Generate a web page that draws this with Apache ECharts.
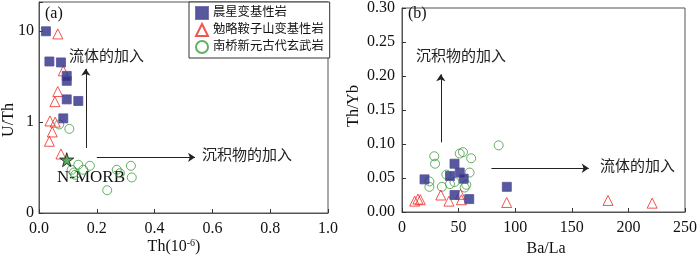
<!DOCTYPE html>
<html><head><meta charset="utf-8">
<script src="https://cdn.jsdelivr.net/npm/echarts@6.0.0/dist/echarts.min.js"></script>
<style>html,body{margin:0;padding:0;background:#fff}#c{width:700px;height:258px}</style>
</head><body><div id="c"></div>
<script>
// ---- Panel (a): Th vs U/Th ----
const seriesNames = ['晨星变基性岩', '勉略鞍子山变基性岩', '南桥新元古代玄武岩'];
const aSquareTh  = [0.024, 0.036, 0.076, 0.096, 0.096, 0.096, 0.136, 0.084];
const aSquareUTh = [10.0, 4.65, 4.54, 3.23, 2.85, 1.78, 1.71, 1.10];
const aTriTh  = [0.065, 0.084, 0.065, 0.055, 0.038, 0.056, 0.046, 0.036, 0.076];
const aTriUTh = [9.35, 3.67, 2.17, 1.68, 1.03, 1.00, 0.78, 0.616, 0.446];
const aCircTh  = [0.070, 0.105, 0.136, 0.176, 0.113, 0.121, 0.125, 0.153, 0.269, 0.280, 0.318, 0.321, 0.236];
const aCircUTh = [0.943, 0.843, 0.340, 0.331, 0.299, 0.279, 0.263, 0.299, 0.299, 0.274, 0.331, 0.246, 0.178];
const nmorbTh = [0.096], nmorbUTh = [0.386];
const aXTicks = [0, 0.2, 0.4, 0.6, 0.8, 1.0];
const aYTickLabels = {'0.1': '0', '1': '1', '10': '10'};
// ---- Panel (b): Ba/La vs Th/Yb ----
const bSquareBaLa = [19.9, 46.4, 42.4, 51.0, 54.5, 46.4, 59.4, 92.6];
const bSquareThYb = [0.048, 0.071, 0.053, 0.058, 0.049, 0.025, 0.019, 0.037];
const bTriBaLa = [11.2, 14.1, 16.2, 34.3, 41.5, 51.6, 52.5, 92.5, 182, 221];
const bTriThYb = [0.016, 0.019, 0.018, 0.025, 0.016, 0.026, 0.018, 0.014, 0.017, 0.013];
const bCircBaLa = [28.5, 29.2, 24.2, 24.2, 35.2, 39.2, 42.4, 46.4, 51.0, 53.9, 61.1, 59.7, 56.8, 55.4, 85.4];
const bCircThYb = [0.082, 0.071, 0.045, 0.037, 0.037, 0.055, 0.041, 0.044, 0.086, 0.088, 0.079, 0.058, 0.040, 0.036, 0.098];

const zip = (a, b) => a.map((v, i) => [v, b[i]]);
const serif = '"Liberation Serif", "Noto Sans CJK SC", serif';
const cjk = '"Liberation Serif", "Noto Sans CJK SC", serif';
const axisColor = '#555';
const sqStyle = {color: '#2c2f85', borderColor: '#5a4f9e', borderWidth: 1};
const triStyle = {color: 'rgba(255,255,255,0)', borderColor: '#ee2b24', borderWidth: 1};
const circStyle = {color: 'rgba(255,255,255,0)', borderColor: '#3c9b3c', borderWidth: 1};

function axisBase() {
  return {
    axisLine: {show: true, lineStyle: {color: axisColor, width: 1}},
    axisTick: {show: true, inside: true, length: 4, lineStyle: {color: '#333'}},
    splitLine: {show: false},
    axisLabel: {color: '#111', fontFamily: serif, fontSize: 16}
  };
}

const chart = echarts.init(document.getElementById('c'), null, {renderer: 'canvas'});
const arrowLine = (pairs) => ({
  silent: true, symbol: ['none', 'arrow'], symbolSize: 7, animation: false,
  label: {show: false}, lineStyle: {color: '#222', width: 1, type: 'solid'},
  emphasis: {disabled: true},
  data: pairs.map(p => [{coord: p[0]}, {coord: p[1]}])
});

chart.setOption({
  animation: false,
  backgroundColor: '#fff',
  grid: [
    {left: 39, top: 2, width: 289, height: 211, show: true, borderColor: axisColor, borderWidth: 1},
    {left: 402, top: 2, width: 289, height: 210, show: true, borderColor: axisColor, borderWidth: 1}
  ],
  xAxis: [
    Object.assign(axisBase(), {gridIndex: 0, type: 'value', min: 0, max: 1, interval: 0.2,
      axisLabel: Object.assign(axisBase().axisLabel, {margin: 8, formatter: v => v.toFixed(1)})}),
    Object.assign(axisBase(), {gridIndex: 1, type: 'value', min: 0, max: 250, interval: 50,
      axisLabel: Object.assign(axisBase().axisLabel, {margin: 8})})
  ],
  yAxis: [
    Object.assign(axisBase(), {gridIndex: 0, type: 'log', logBase: 10, min: 0.1, max: 21,
      axisLabel: Object.assign(axisBase().axisLabel, {margin: 5, formatter: v => {
        const k = String(+v.toPrecision(6)); return aYTickLabels[k] !== undefined ? aYTickLabels[k] : '';
      }})}),
    Object.assign(axisBase(), {gridIndex: 1, type: 'value', min: 0, max: 0.30, interval: 0.05,
      axisLabel: Object.assign(axisBase().axisLabel, {margin: 7, formatter: v => v.toFixed(2)})})
  ],
  legend: {
    left: 189, top: 2, orient: 'vertical', data: seriesNames,
    borderColor: '#333', borderWidth: 1, padding: [4, 6, 4, 6],
    itemWidth: 12, itemHeight: 12, itemGap: 3, backgroundColor: '#fff',
    textStyle: {fontFamily: cjk, fontSize: 12.3, color: '#111'}
  },
  series: [
    {name: seriesNames[2], type: 'scatter', xAxisIndex: 0, yAxisIndex: 0, symbol: 'circle', symbolSize: 9,
      itemStyle: circStyle, data: zip(aCircTh, aCircUTh), z: 2},
    {name: seriesNames[1], type: 'scatter', xAxisIndex: 0, yAxisIndex: 0, symbol: 'triangle', symbolSize: 10,
      itemStyle: triStyle, data: zip(aTriTh, aTriUTh), z: 3},
    {name: seriesNames[0], type: 'scatter', xAxisIndex: 0, yAxisIndex: 0, symbol: 'rect', symbolSize: 9,
      itemStyle: sqStyle, data: zip(aSquareTh, aSquareUTh), z: 4,
      markLine: arrowLine([[[0.162, 0.52], [0.162, 3.86]], [[0.2, 0.41], [0.54, 0.41]]])},
    {name: 'N-MORB', type: 'scatter', xAxisIndex: 0, yAxisIndex: 0,
      symbol: 'path://M50,0 L61,35 L98,35 L68,57 L79,91 L50,70 L21,91 L32,57 L2,35 L39,35 Z', symbolSize: 14,
      itemStyle: {color: '#2f9a3a', borderColor: '#111', borderWidth: 1}, data: zip(nmorbTh, nmorbUTh), z: 5},
    {name: seriesNames[2], type: 'scatter', xAxisIndex: 1, yAxisIndex: 1, symbol: 'circle', symbolSize: 9,
      itemStyle: circStyle, data: zip(bCircBaLa, bCircThYb), z: 2},
    {name: seriesNames[1], type: 'scatter', xAxisIndex: 1, yAxisIndex: 1, symbol: 'triangle', symbolSize: 10,
      itemStyle: triStyle, data: zip(bTriBaLa, bTriThYb), z: 3},
    {name: seriesNames[0], type: 'scatter', xAxisIndex: 1, yAxisIndex: 1, symbol: 'rect', symbolSize: 9,
      itemStyle: sqStyle, data: zip(bSquareBaLa, bSquareThYb), z: 4,
      markLine: arrowLine([[[34.3, 0.1024], [34.3, 0.2024]], [[79, 0.0643], [165, 0.0643]]])}
  ],
  graphic: [
    {type: 'text', left: 45, top: 6, style: {text: '(a)', font: '16px ' + serif, fill: '#111'}},
    {type: 'text', left: 408, top: 6, style: {text: '(b)', font: '16px ' + serif, fill: '#111'}},
    {type: 'text', x: 69, y: 57, style: {text: '流体的加入', font: '15px ' + cjk, fill: '#222', verticalAlign: 'middle'}},
    {type: 'text', x: 202, y: 156, style: {text: '沉积物的加入', font: '15px ' + cjk, fill: '#222', verticalAlign: 'middle'}},
    {type: 'text', x: 91, y: 178, style: {text: 'N-MORB', font: '17px ' + serif, fill: '#111', align: 'center', verticalAlign: 'middle'}},
    {type: 'text', x: 416, y: 57, style: {text: '沉积物的加入', font: '15px ' + cjk, fill: '#222', verticalAlign: 'middle'}},
    {type: 'text', x: 600, y: 167, style: {text: '流体的加入', font: '15px ' + cjk, fill: '#222', verticalAlign: 'middle'}},
    {type: 'text', x: 9, y: 120, rotation: Math.PI / 2,
      style: {text: 'U/Th', font: '16px ' + serif, fill: '#111', align: 'center', verticalAlign: 'middle'}},
    {type: 'text', x: 354, y: 106, rotation: Math.PI / 2,
      style: {text: 'Th/Yb', font: '16px ' + serif, fill: '#111', align: 'center', verticalAlign: 'middle'}},
    {type: 'text', x: 174, y: 247, style: {
      text: 'Th(10{sup|-6})', font: '16px ' + serif, fill: '#111', align: 'center', verticalAlign: 'middle',
      rich: {sup: {fontSize: 10, fontFamily: serif, verticalAlign: 'top', padding: [0, 0, 7, 0]}}}},
    {type: 'text', x: 546, y: 249, style: {text: 'Ba/La', font: '16px ' + serif, fill: '#111', align: 'center', verticalAlign: 'middle'}}
  ]
});
</script></body></html>
